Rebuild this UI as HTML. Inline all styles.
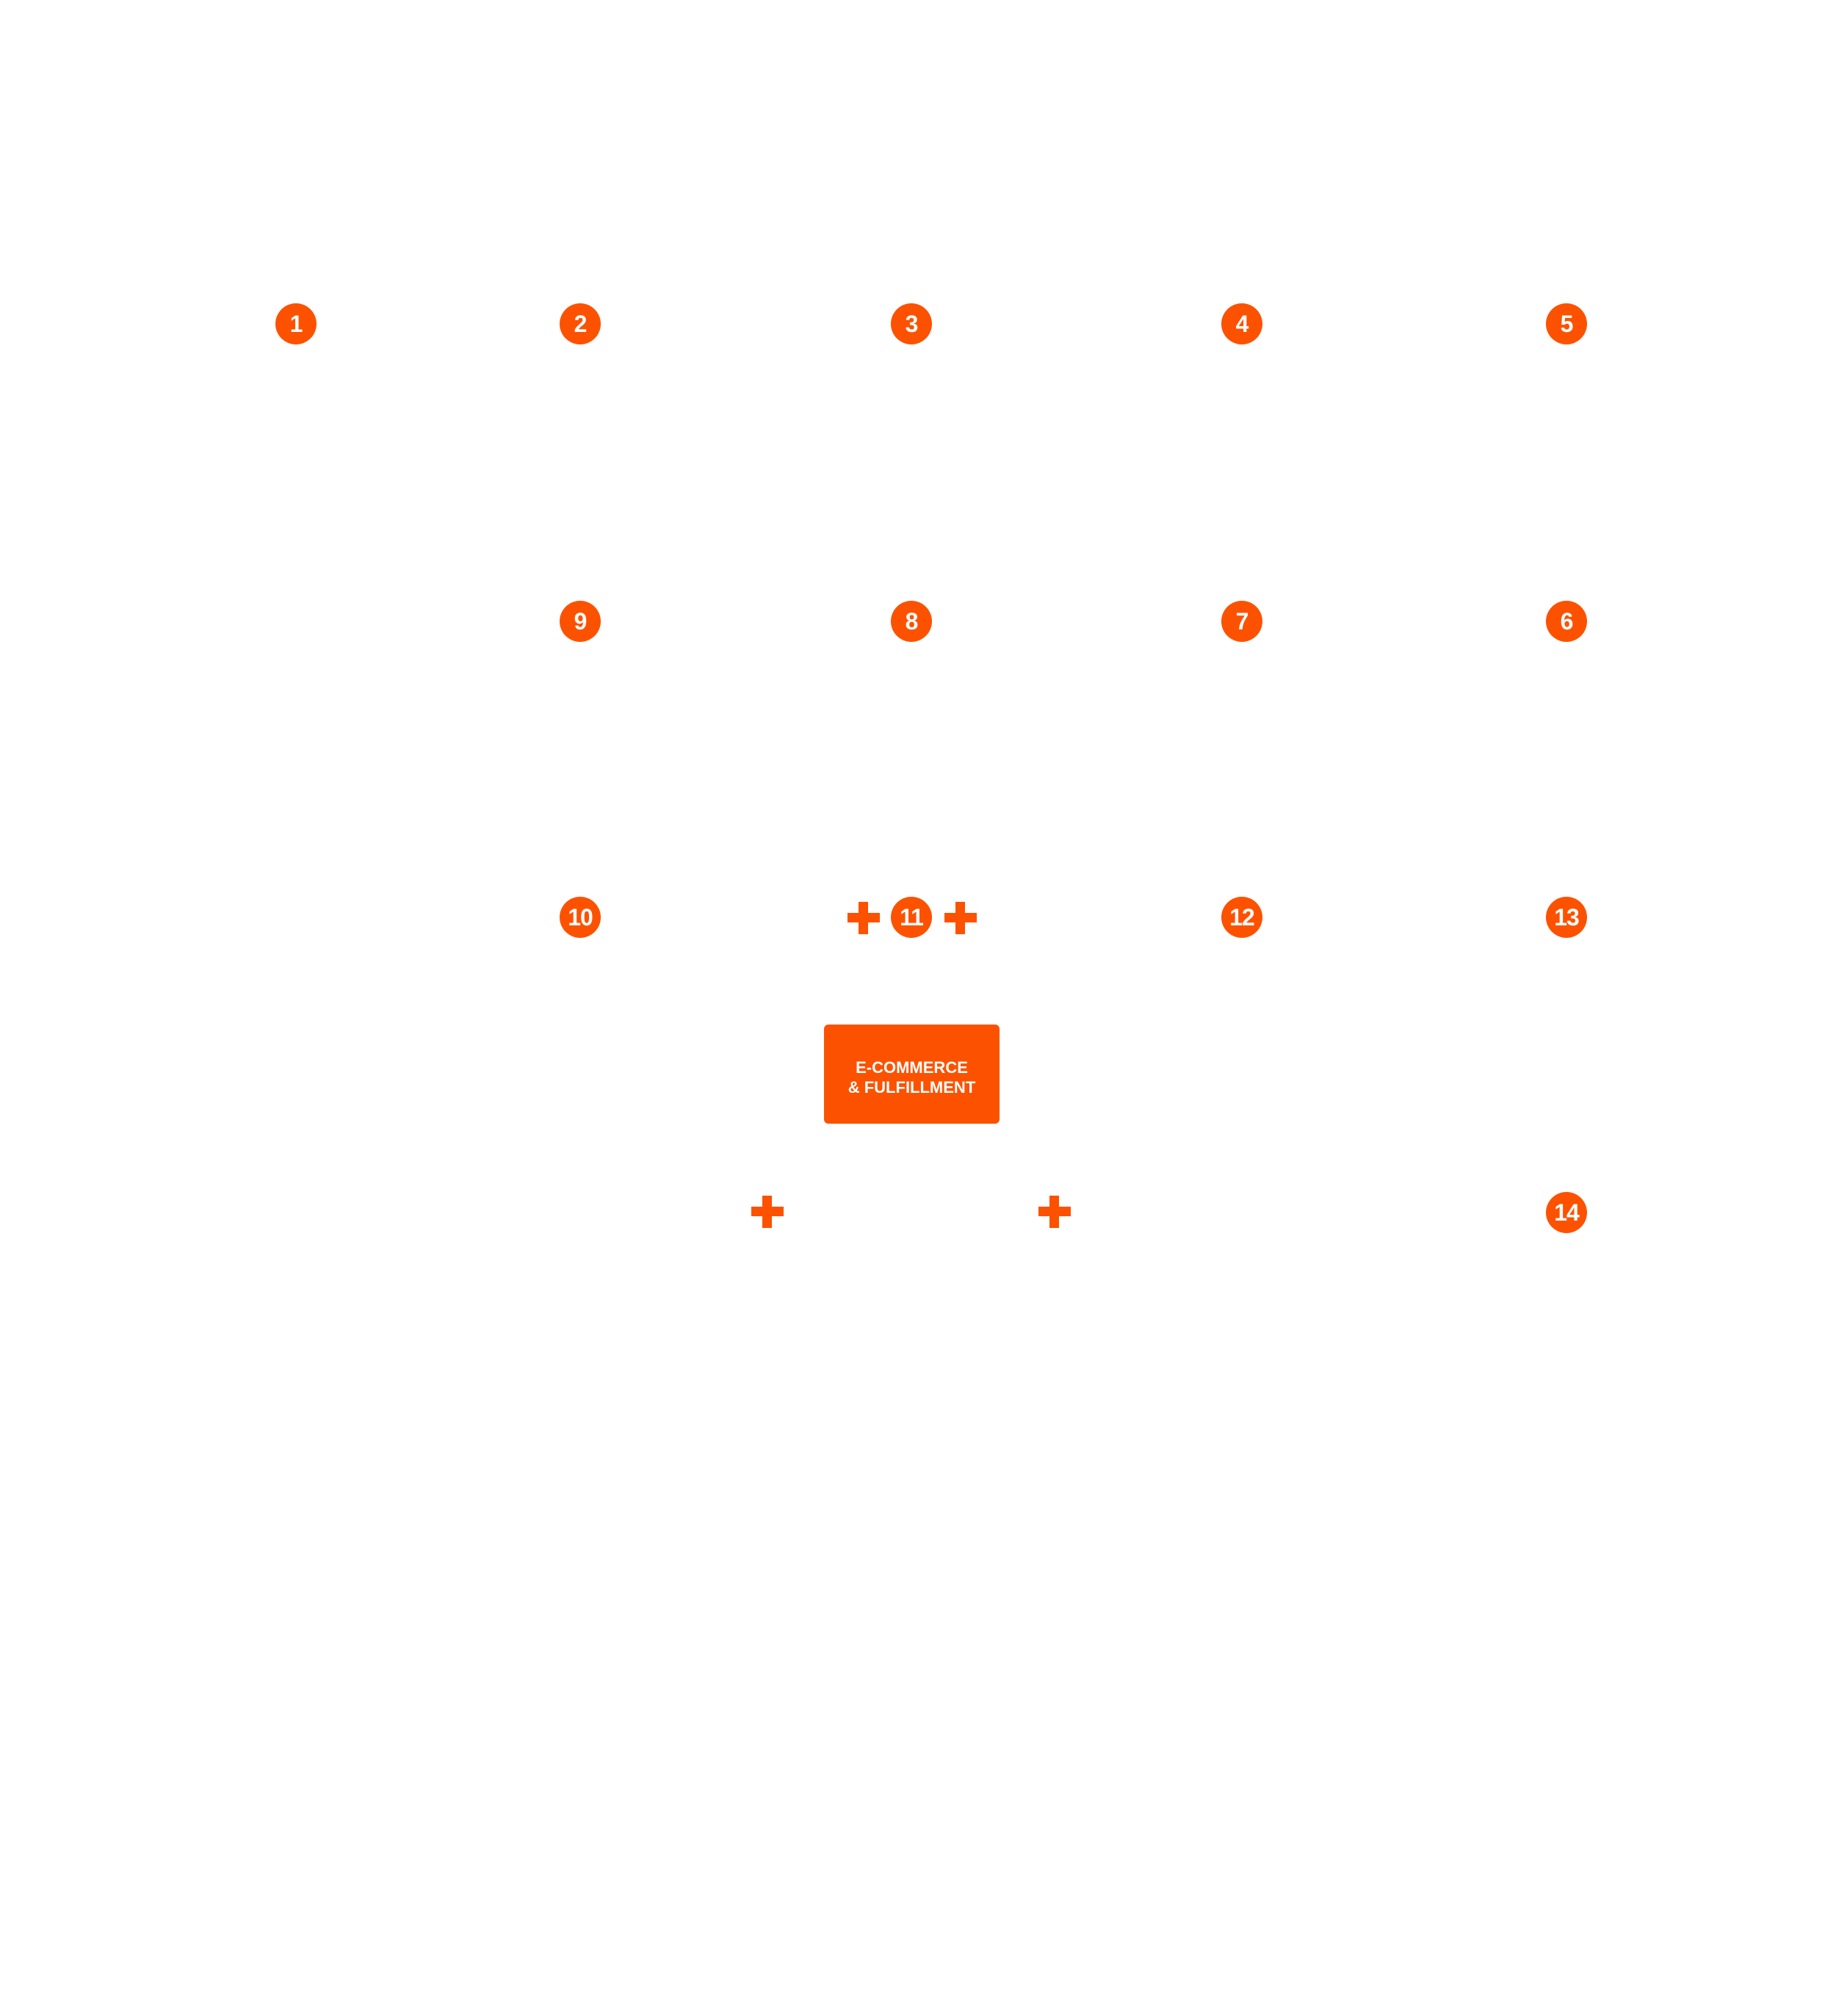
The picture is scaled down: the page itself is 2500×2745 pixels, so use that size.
<!DOCTYPE html>
<html><head><meta charset="utf-8"><style>
html,body{margin:0;padding:0;background:#fff;}
body{width:2500px;height:2745px;position:relative;overflow:hidden;font-family:"Liberation Sans",sans-serif;}
.c{position:absolute;width:56px;height:56px;border-radius:50%;background:#fc5200;color:#fff;font-weight:bold;font-size:32px;line-height:56px;text-align:center;letter-spacing:-1px;}
.p{position:absolute;width:44px;height:44px;}
.p:before,.p:after{content:"";position:absolute;background:#fc5200;}
.p:before{left:0;top:15px;width:44px;height:13px;}
.p:after{left:15px;top:0;width:13px;height:44px;}
.box{position:absolute;left:1122px;top:1395px;width:239px;height:135px;background:#fc5200;border-radius:6px;color:#fff;font-weight:bold;font-size:22px;text-align:center;line-height:27px;box-sizing:border-box;padding-top:45px;}
</style></head><body>
<div class="c" style="left:375px;top:413px">1</div>
<div class="c" style="left:762px;top:413px">2</div>
<div class="c" style="left:1213px;top:413px">3</div>
<div class="c" style="left:1663px;top:413px">4</div>
<div class="c" style="left:2105px;top:413px">5</div>
<div class="c" style="left:762px;top:818px">9</div>
<div class="c" style="left:1213px;top:818px">8</div>
<div class="c" style="left:1663px;top:818px">7</div>
<div class="c" style="left:2105px;top:818px">6</div>
<div class="c" style="left:762px;top:1221px">10</div>
<div class="c" style="left:1213px;top:1221px">11</div>
<div class="c" style="left:1663px;top:1221px">12</div>
<div class="c" style="left:2105px;top:1221px">13</div>
<div class="c" style="left:2105px;top:1623px">14</div>
<div class="p" style="left:1154px;top:1228px"></div>
<div class="p" style="left:1286px;top:1228px"></div>
<div class="p" style="left:1023px;top:1628px"></div>
<div class="p" style="left:1414px;top:1628px"></div>
<div class="box">E-COMMERCE<br>&amp; FULFILLMENT</div>
</body></html>
